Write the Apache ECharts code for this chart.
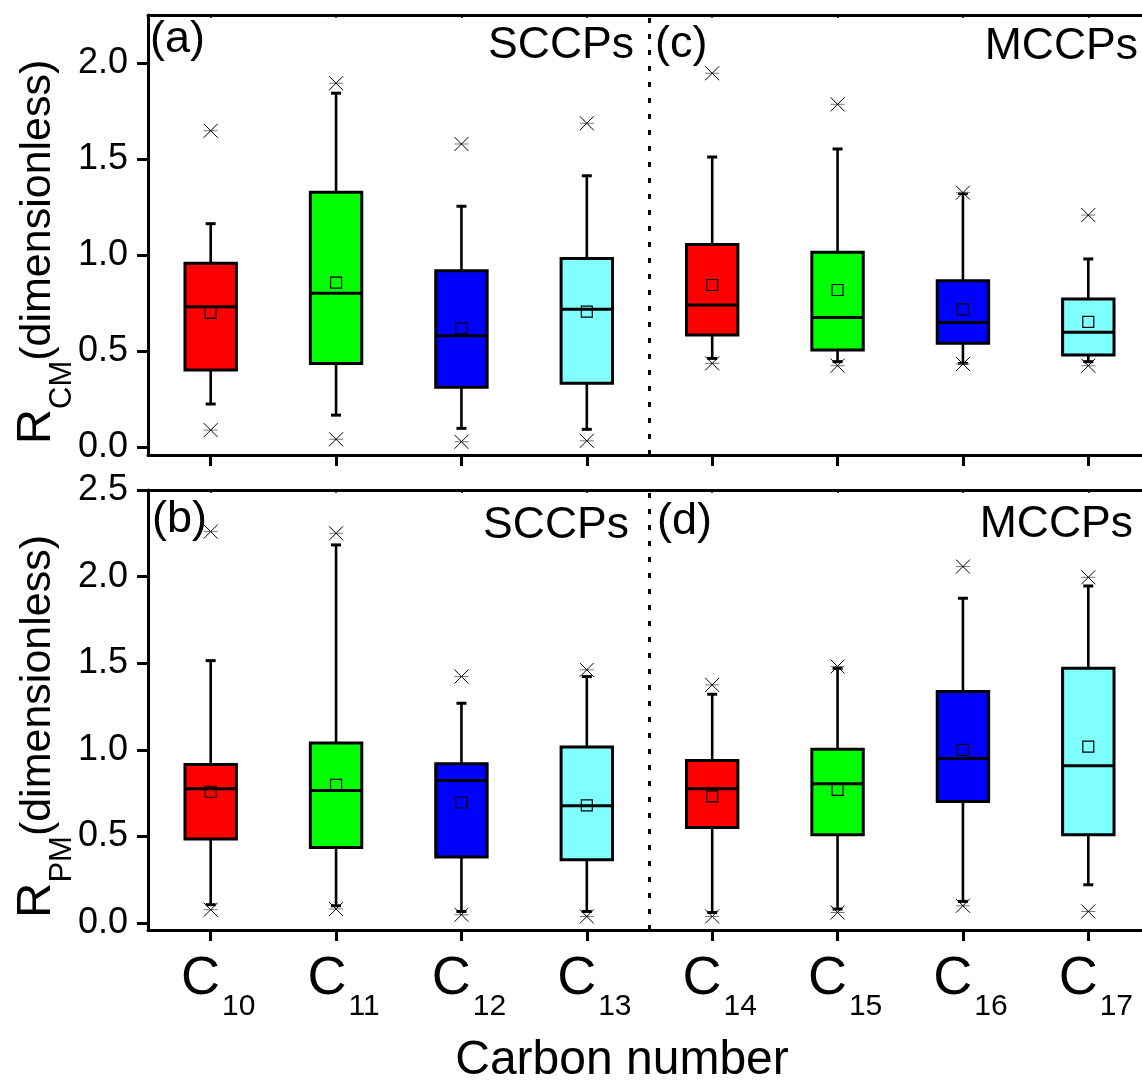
<!DOCTYPE html>
<html><head><meta charset="utf-8">
<script src="https://cdn.jsdelivr.net/npm/echarts@6/dist/echarts.min.js"></script>
<style>html,body{margin:0;padding:0;background:#fff}#main{width:1142px;height:1081px}</style>
</head><body><div id="main"></div>
<script>
const categories = ['C10', 'C11', 'C12', 'C13', 'C14', 'C15', 'C16', 'C17'];
const cmTickLabels = [0, 0.5, 1.0, 1.5, 2.0];
const pmTickLabels = [0, 0.5, 1.0, 1.5, 2.0, 2.5];
const groupBoundary = 3.5; // between C13 (SCCPs) and C14 (MCCPs)

// Panel (a)/(c): R_CM
const cmP1          = [0.087, 0.039, 0.026, 0.031, 0.435, 0.423, 0.432, 0.423];
const cmWhiskerLow  = [0.223, 0.165, 0.096, 0.091, 0.461, 0.444, 0.435, 0.444];
const cmQ1          = [0.400, 0.435, 0.310, 0.331, 0.583, 0.505, 0.540, 0.479];
const cmMedian      = [0.731, 0.801, 0.579, 0.717, 0.740, 0.675, 0.649, 0.597];
const cmQ3          = [0.957, 1.328, 0.919, 0.983, 1.056, 1.015, 0.866, 0.771];
const cmWhiskerHigh = [1.164, 1.845, 1.255, 1.414, 1.512, 1.554, 1.322, 0.980];
const cmP99         = [1.649, 1.897, 1.580, 1.688, 1.949, 1.787, 1.326, 1.209];
const cmMean        = [0.699, 0.856, 0.618, 0.705, 0.844, 0.818, 0.717, 0.652];

// Panel (b)/(d): R_PM
const pmP1          = [0.077, 0.081, 0.048, 0.038, 0.038, 0.061, 0.100, 0.067];
const pmWhiskerLow  = [0.106, 0.100, 0.067, 0.067, 0.061, 0.081, 0.125, 0.221];
const pmQ1          = [0.486, 0.436, 0.381, 0.365, 0.552, 0.510, 0.702, 0.510];
const pmMedian      = [0.775, 0.765, 0.823, 0.677, 0.775, 0.804, 0.950, 0.908];
const pmQ3          = [0.915, 1.039, 0.919, 1.016, 0.938, 1.004, 1.337, 1.471];
const pmWhiskerHigh = [1.515, 2.183, 1.269, 1.423, 1.321, 1.471, 1.875, 1.946];
const pmP99         = [2.260, 2.250, 1.423, 1.462, 1.375, 1.481, 2.058, 1.996];
const pmMean        = [0.758, 0.798, 0.696, 0.679, 0.731, 0.769, 1.000, 1.019];

const boxColors = ['#ff0000', '#00ff00', '#0000ff', '#80ffff'];
const FONT = '"Liberation Sans", Arial, Helvetica, sans-serif';
const TOP_RANGE = [-0.043, 2.253];
const BOT_RANGE = [-0.04, 2.5];

function rows(p1, wl, q1, med, q3, wh, p99, mean) {
  return categories.map((c, i) => [i, p1[i], wl[i], q1[i], med[i], q3[i], wh[i], p99[i], mean[i]]);
}

function renderBox(params, api) {
  const i = api.value(0);
  const yOf = v => api.coord([i, v])[1];
  const x = api.coord([i, api.value(4)])[0];
  const bw = api.size([1, 0])[0] * 0.41;
  const color = boxColors[i % 4];
  const yP1 = yOf(api.value(1)), yWl = yOf(api.value(2)), yQ1 = yOf(api.value(3));
  const yMed = yOf(api.value(4)), yQ3 = yOf(api.value(5)), yWh = yOf(api.value(6));
  const yP99 = yOf(api.value(7)), yMean = yOf(api.value(8));
  const black = '#000';
  const line = (x1, y1, x2, y2, w, col) => ({
    type: 'line', shape: { x1, y1, x2, y2 },
    style: { stroke: col || black, lineWidth: w, lineCap: 'butt' }
  });
  const cross = cy => [
    line(x - 7, cy, x + 7, cy, 1, '#777'),
    line(x - 7, cy - 7, x + 7, cy + 7, 1),
    line(x - 7, cy + 7, x + 7, cy - 7, 1)
  ];
  return {
    type: 'group',
    children: [
      line(x, yWl, x, yQ1, 2.6),
      line(x, yQ3, x, yWh, 2.6),
      line(x - 5, yWl, x + 5, yWl, 3),
      line(x - 5, yWh, x + 5, yWh, 3),
      { type: 'rect', shape: { x: x - bw / 2, y: yQ3, width: bw, height: yQ1 - yQ3 },
        style: { fill: color, stroke: black, lineWidth: 3, lineJoin: 'miter' } },
      line(x - bw / 2, yMed, x + bw / 2, yMed, 3),
      { type: 'rect', shape: { x: x - 5.5, y: yMean - 5.5, width: 11, height: 11 },
        style: { fill: 'none', stroke: black, lineWidth: 1.2 } },
      ...cross(yP1), ...cross(yP99)
    ]
  };
}

function bottomCatAxis(gridIndex, withLabels) {
  const ax = {
    gridIndex, type: 'category', data: categories, position: 'bottom',
    axisLine: { show: true, onZero: false, lineStyle: { color: '#000', width: 3 } },
    axisTick: { show: true, alignWithLabel: true, length: 11, lineStyle: { color: '#000', width: 3 } },
    splitLine: { show: false },
    axisLabel: { show: false }
  };
  if (withLabels) {
    ax.axisLabel = {
      show: true, interval: 0, margin: 22,
      formatter: v => `{c|C}{s|${v.slice(1)}}`,
      rich: {
        c: { fontSize: 54, lineHeight: 54, fontFamily: FONT, color: '#000', padding: [0, 0, 0, 15] },
        s: { fontSize: 30, lineHeight: 30, fontFamily: FONT, color: '#000', padding: [55, 0, 0, 2] }
      }
    };
    ax.name = 'Carbon number';
    ax.nameLocation = 'middle';
    ax.nameGap = 107;
    ax.nameMoveOverlap = false;
    ax.nameTextStyle = { fontSize: 48, lineHeight: 48, fontFamily: FONT, color: '#000', padding: [0, 55, 0, 0] };
  }
  return ax;
}
function topCatAxis(gridIndex) {
  return {
    gridIndex, type: 'category', data: categories, position: 'top',
    axisLine: { show: true, onZero: false, lineStyle: { color: '#000', width: 3 } },
    axisTick: { show: true, alignWithLabel: true, inside: true, length: 3, lineStyle: { color: '#000', width: 1.5 } },
    axisLabel: { show: false }, splitLine: { show: false }
  };
}
function hiddenValueAxis(gridIndex) {
  return { gridIndex, type: 'value', position: 'bottom', min: -0.5, max: 7.5, show: false,
           axisLine: { onZero: false }, splitLine: { show: false } };
}
function yAxisFor(gridIndex, range, ticks, sub, padRight) {
  return {
    gridIndex, type: 'value', min: range[0], max: range[1],
    axisLine: { show: true, onZero: false, lineStyle: { color: '#000', width: 3 } },
    axisTick: { show: true, length: 11, customValues: ticks, lineStyle: { color: '#000', width: 3 } },
    axisLabel: { show: true, customValues: ticks, formatter: v => Number(v).toFixed(1),
                 fontSize: 36, fontFamily: FONT, color: '#000', margin: 20 },
    splitLine: { show: false },
    name: `{r|R}{s|${sub}}{t|(dimensionless)}`,
    nameLocation: 'middle', nameGap: 87, nameRotate: 90, nameMoveOverlap: false,
    nameTextStyle: {
      padding: [0, padRight, 0, 0],
      rich: {
        r: { fontSize: 49, lineHeight: 49, fontFamily: FONT, color: '#000' },
        s: { fontSize: 31, lineHeight: 31, fontFamily: FONT, color: '#000', padding: [52, 0, 0, 0] },
        t: { fontSize: 43, lineHeight: 43, fontFamily: FONT, color: '#000', padding: [4, 0, 0, 0] }
      }
    }
  };
}
function divider(xIdx, yIdx, range) {
  return {
    type: 'line', xAxisIndex: xIdx, yAxisIndex: yIdx, silent: true, symbol: 'none', z: 1,
    data: [[groupBoundary, range[0]], [groupBoundary, range[1]]],
    lineStyle: { color: '#000', width: 3, type: [5, 11] }
  };
}
function label(text, x, y, size, align) {
  return { type: 'text', x, y, z: 10,
           style: { text, fontSize: size, fontFamily: FONT, fill: '#000', align, verticalAlign: 'middle' } };
}

const chart = echarts.init(document.getElementById('main'), null, { renderer: 'canvas' });
chart.setOption({
  backgroundColor: '#fff',
  animation: false,
  grid: [
    { left: 148, right: -9, top: 15, height: 440, outerBoundsMode: 'none', containLabel: false },
    { left: 148, right: -9, top: 490, height: 440, outerBoundsMode: 'none', containLabel: false }
  ],
  xAxis: [
    bottomCatAxis(0, false), topCatAxis(0), hiddenValueAxis(0),
    bottomCatAxis(1, true), topCatAxis(1), hiddenValueAxis(1)
  ],
  yAxis: [
    yAxisFor(0, TOP_RANGE, cmTickLabels, 'CM', 34),
    yAxisFor(1, BOT_RANGE, pmTickLabels, 'PM', 33)
  ],
  series: [
    { type: 'custom', xAxisIndex: 0, yAxisIndex: 0, silent: true, clip: false, z: 3,
      renderItem: renderBox, encode: { x: 0, y: [1, 2, 3, 4, 5, 6, 7, 8] },
      data: rows(cmP1, cmWhiskerLow, cmQ1, cmMedian, cmQ3, cmWhiskerHigh, cmP99, cmMean) },
    { type: 'custom', xAxisIndex: 3, yAxisIndex: 1, silent: true, clip: false, z: 3,
      renderItem: renderBox, encode: { x: 0, y: [1, 2, 3, 4, 5, 6, 7, 8] },
      data: rows(pmP1, pmWhiskerLow, pmQ1, pmMedian, pmQ3, pmWhiskerHigh, pmP99, pmMean) },
    divider(2, 0, TOP_RANGE),
    divider(5, 1, BOT_RANGE)
  ],
  graphic: [
    label('(a)', 150, 40, 45, 'left'),
    label('SCCPs', 634, 45.3, 44.5, 'right'),
    label('(c)', 655, 44.5, 45, 'left'),
    label('MCCPs', 1138, 46.5, 44.5, 'right'),
    label('(b)', 152, 520, 45, 'left'),
    label('SCCPs', 629, 525.8, 44.5, 'right'),
    label('(d)', 657, 522, 45, 'left'),
    label('MCCPs', 1133, 524.8, 44.5, 'right')
  ]
});
</script>
</body></html>
